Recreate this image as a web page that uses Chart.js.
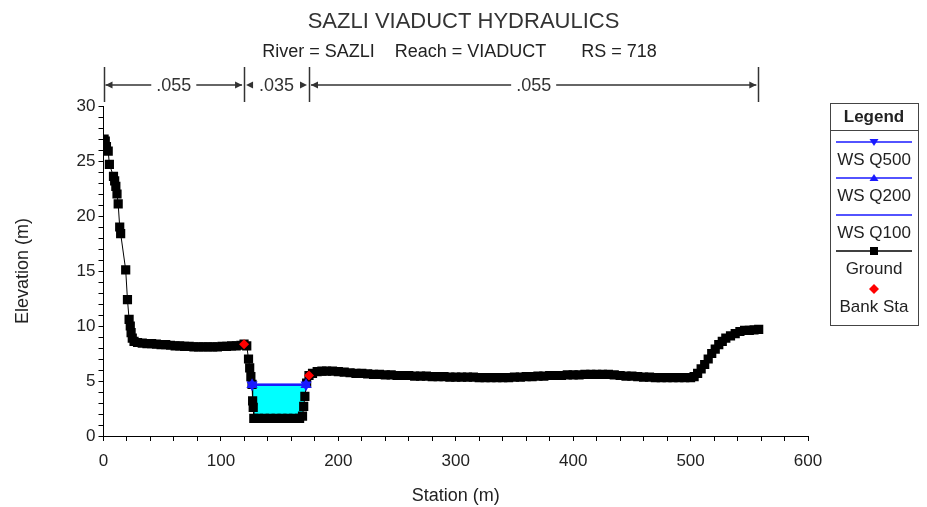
<!DOCTYPE html>
<html>
<head>
<meta charset="utf-8">
<title>SAZLI VIADUCT HYDRAULICS</title>
<script src="https://cdn.jsdelivr.net/npm/chart.js@4.4.1/dist/chart.umd.min.js"></script>
<style>
  html, body { margin: 0; padding: 0; background: #fff; }
</style>
</head>
<body>
<canvas id="xsChart" width="927" height="507"></canvas>
<script>
// Cross section RS 718 - ground survey points (station m, elevation m)
const groundStation = [
    0.5, 1.5, 2.5, 4, 5, 8.5, 9.5, 10.5, 11.5, 12.5, 13.8, 14.6, 18.9, 20.4, 21.8, 22.8, 23.5, 24.5,
    26, 29, 33, 37, 41, 45, 49, 53, 57, 61, 65, 69, 73, 77, 81, 85, 89, 93, 97, 101, 105, 109, 113, 117,
    119.7, 122, 123.5, 124.5, 125.5, 126.5, 127, 127.5, 128, 132, 137, 142, 147, 152, 157, 162, 167,
    169.5, 170.5, 171.5, 173, 175, 178, 182, 186, 190, 195, 200, 205, 210, 215, 220, 225, 230, 235,
    240, 245, 250, 255, 260, 265, 270, 275, 280, 285, 290, 295, 300, 305, 310, 315, 320, 325, 330,
    335, 340, 345, 350, 355, 360, 365, 370, 375, 380, 385, 390, 395, 400, 405, 410, 415, 420, 425,
    430, 435, 440, 445, 450, 455, 460, 465, 470, 475, 480, 485, 490, 495, 500, 503, 506, 509, 512,
    515, 518, 521, 524, 527, 530, 534, 538, 542, 546, 550, 554, 558];
const groundElev = [
    27.0, 26.8, 26.3, 25.9, 24.7, 23.6, 23.2, 22.7, 22.0, 21.1, 19.0, 18.4, 15.1, 12.4, 10.6, 10.0, 9.4, 8.9,
    8.6, 8.5, 8.45, 8.4, 8.4, 8.35, 8.3, 8.3, 8.25, 8.2, 8.2, 8.15, 8.15, 8.1, 8.1, 8.1, 8.1, 8.1, 8.1, 8.15, 8.15, 8.2, 8.2, 8.25,
    8.35, 8.2, 7.0, 6.2, 5.4, 4.7, 3.2, 2.6, 1.6, 1.6, 1.6, 1.6, 1.6, 1.6, 1.6, 1.6, 1.6,
    1.8, 2.7, 3.6, 4.8, 5.5, 5.7, 5.85, 5.9, 5.9, 5.9, 5.85, 5.8, 5.75, 5.7, 5.7, 5.65, 5.6, 5.6,
    5.55, 5.55, 5.5, 5.5, 5.5, 5.45, 5.45, 5.45, 5.4, 5.4, 5.4, 5.35, 5.35, 5.35, 5.35, 5.35, 5.3, 5.3, 5.3,
    5.3, 5.3, 5.3, 5.35, 5.35, 5.4, 5.4, 5.45, 5.45, 5.5, 5.5, 5.5, 5.55, 5.55, 5.55, 5.6, 5.6, 5.6, 5.6,
    5.6, 5.55, 5.5, 5.45, 5.45, 5.4, 5.35, 5.35, 5.3, 5.3, 5.3, 5.3, 5.3, 5.3, 5.3, 5.4, 5.7, 6.1, 6.5,
    7.0, 7.5, 7.9, 8.3, 8.6, 8.9, 9.1, 9.3, 9.5, 9.6, 9.6, 9.65, 9.7];

const bankStation = [119.7, 175];
const bankElev = [8.35, 5.5];

// water surface edges and elevations per profile
const wsStation = [126.5, 172.5];
const wsQ500 = [4.65, 4.65];
const wsQ200 = [4.65, 4.65];
const wsQ100 = [4.65, 4.65];

// Manning's n regions
const nBreaks = [0, 119.7, 175, 557.7];
const nValues = ['.055', '.035', '.055'];

const xTickLabels = [0, 100, 200, 300, 400, 500, 600];
const yTickLabels = [0, 5, 10, 15, 20, 25, 30];

const legendItems = ['WS Q500', 'WS Q200', 'WS Q100', 'Ground', 'Bank Sta'];
const titleText = 'SAZLI VIADUCT HYDRAULICS';
const subtitleText = 'River = SAZLI    Reach = VIADUCT       RS = 718';

const FONT = "'Liberation Sans', Arial, sans-serif";
const WS_BLUE = '#1a1aff';
Chart.defaults.font.family = FONT;
Chart.defaults.color = '#222';

function toXY(xs, ys) {
    return xs.map((x, i) => ({ x: x, y: ys[i] }));
}

const groundPts = toXY(groundStation, groundElev);
// wetted part of the channel, filled up to the water surface
const waterPts = [{ x: wsStation[0], y: wsQ100[0] }]
    .concat(groundPts.filter(p => p.x > wsStation[0] && p.x < wsStation[1]))
    .concat([{ x: wsStation[1], y: wsQ100[1] }]);

// titles, arrows + n values above the plot, legend box on the right
const annotate = {
    id: 'annotate',
    afterDraw(chart) {
        const ctx = chart.ctx;
        const xs = chart.scales.x;
        ctx.save();
        ctx.textAlign = 'center';
        ctx.textBaseline = 'middle';

        // titles centred on the whole canvas
        ctx.fillStyle = '#333';
        ctx.font = '22px ' + FONT;
        ctx.fillText(titleText, chart.width / 2, 22);
        ctx.fillStyle = '#222';
        ctx.font = '18px ' + FONT;
        ctx.fillText(subtitleText, chart.width / 2 - 4, 52);

        // n value brackets
        const yLine = 85;
        ctx.strokeStyle = '#333';
        ctx.fillStyle = '#333';
        ctx.lineWidth = 1.5;
        nBreaks.forEach(b => {
            const px = Math.round(xs.getPixelForValue(b)) + 0.5;
            ctx.beginPath();
            ctx.moveTo(px, 67);
            ctx.lineTo(px, 102);
            ctx.stroke();
        });
        function arrowHead(x, dir) {
            ctx.beginPath();
            ctx.moveTo(x, yLine);
            ctx.lineTo(x + dir * 7, yLine - 3.5);
            ctx.lineTo(x + dir * 7, yLine + 3.5);
            ctx.closePath();
            ctx.fill();
        }
        for (let i = 0; i < nValues.length; i++) {
            const a = xs.getPixelForValue(nBreaks[i]) + 2;
            const b = xs.getPixelForValue(nBreaks[i + 1]) - 2;
            const mid = (a + b) / 2;
            const half = ctx.measureText(nValues[i]).width / 2 + 5;
            ctx.fillText(nValues[i], mid, yLine + 1);
            if (mid - half > a + 8) {
                ctx.beginPath();
                ctx.moveTo(a, yLine);
                ctx.lineTo(mid - half, yLine);
                ctx.stroke();
                ctx.beginPath();
                ctx.moveTo(mid + half, yLine);
                ctx.lineTo(b, yLine);
                ctx.stroke();
            }
            arrowHead(a, 1);
            arrowHead(b, -1);
        }

        // legend
        const lx = 830, ly = 103, lw = 88, lh = 222;
        const cx = lx + lw / 2;
        ctx.lineWidth = 1;
        ctx.strokeStyle = '#444';
        ctx.strokeRect(lx + 0.5, ly + 0.5, lw, lh);
        ctx.beginPath();
        ctx.moveTo(lx, ly + 27.5);
        ctx.lineTo(lx + lw, ly + 27.5);
        ctx.stroke();
        ctx.fillStyle = '#222';
        ctx.font = 'bold 17px ' + FONT;
        ctx.fillText('Legend', cx, ly + 14);
        ctx.font = '17px ' + FONT;

        const rows = [142, 178, 215, 251, 289];
        rows.forEach((ry, i) => {
            if (i < 4) {
                ctx.strokeStyle = i < 3 ? WS_BLUE : '#000';
                ctx.lineWidth = 1.5;
                ctx.beginPath();
                ctx.moveTo(lx + 6, ry);
                ctx.lineTo(lx + lw - 6, ry);
                ctx.stroke();
            }
            if (i === 0) {
                ctx.fillStyle = WS_BLUE;
                ctx.beginPath();
                ctx.moveTo(cx - 4.5, ry - 3);
                ctx.lineTo(cx + 4.5, ry - 3);
                ctx.lineTo(cx, ry + 4);
                ctx.closePath();
                ctx.fill();
            } else if (i === 1) {
                ctx.fillStyle = WS_BLUE;
                ctx.beginPath();
                ctx.moveTo(cx - 4.5, ry + 3);
                ctx.lineTo(cx + 4.5, ry + 3);
                ctx.lineTo(cx, ry - 4);
                ctx.closePath();
                ctx.fill();
            } else if (i === 3) {
                ctx.fillStyle = '#000';
                ctx.fillRect(cx - 4, ry - 4, 8, 8);
            } else if (i === 4) {
                ctx.fillStyle = '#ff0000';
                ctx.beginPath();
                ctx.moveTo(cx, ry - 5);
                ctx.lineTo(cx + 5, ry);
                ctx.lineTo(cx, ry + 5);
                ctx.lineTo(cx - 5, ry);
                ctx.closePath();
                ctx.fill();
            }
            ctx.fillStyle = '#222';
            ctx.fillText(legendItems[i], cx, ry + 18);
        });
        ctx.restore();
    }
};

new Chart(document.getElementById('xsChart'), {
    type: 'line',
    data: {
        datasets: [
            {
                label: 'Bank Sta',
                data: toXY(bankStation, bankElev),
                showLine: false,
                pointStyle: 'rectRot',
                pointRadius: 5,
                backgroundColor: '#ff0000',
                borderColor: '#ff0000',
                borderWidth: 0
            },
            {
                label: 'WS Q500',
                data: toXY(wsStation, wsQ500),
                borderColor: WS_BLUE,
                backgroundColor: WS_BLUE,
                borderWidth: 2,
                pointStyle: 'triangle',
                rotation: 180,
                pointRadius: 4.5
            },
            {
                label: 'WS Q200',
                data: toXY(wsStation, wsQ200),
                borderColor: WS_BLUE,
                backgroundColor: WS_BLUE,
                borderWidth: 2,
                pointStyle: 'triangle',
                pointRadius: 4.5
            },
            {
                label: 'WS Q100',
                data: toXY(wsStation, wsQ100),
                borderColor: WS_BLUE,
                borderWidth: 2,
                pointRadius: 0
            },
            {
                label: 'Ground',
                data: groundPts,
                borderColor: '#000',
                backgroundColor: '#000',
                borderWidth: 1,
                pointStyle: 'rect',
                pointRadius: 6.5,
                pointBorderWidth: 0
            },
            {
                label: 'water',
                data: waterPts,
                borderWidth: 0,
                pointRadius: 0,
                backgroundColor: '#00ffff',
                fill: { value: wsQ100[0] }
            }
        ]
    },
    options: {
        responsive: false,
        animation: false,
        events: [],
        layout: { padding: { left: 5, right: 119, top: 106, bottom: 0 } },
        plugins: {
            legend: { display: false },
            tooltip: { enabled: false },
            title: { display: false },
            subtitle: { display: false }
        },
        scales: {
            x: {
                type: 'linear',
                min: 0,
                max: 600,
                grid: { drawOnChartArea: false, tickLength: 5, tickColor: '#000' },
                border: { color: '#000', width: 1 },
                ticks: {
                    stepSize: 20,
                    autoSkip: false,
                    maxRotation: 0,
                    padding: 10,
                    color: '#222',
                    font: { size: 17 },
                    callback: v => xTickLabels.includes(v) ? String(v) : ''
                },
                title: {
                    display: true,
                    text: 'Station (m)',
                    color: '#222',
                    font: { size: 18 },
                    padding: { top: 4, bottom: 0 }
                }
            },
            y: {
                min: 0,
                max: 30,
                grid: { drawOnChartArea: false, tickLength: 5, tickColor: '#000' },
                border: { color: '#000', width: 1 },
                ticks: {
                    stepSize: 1,
                    autoSkip: false,
                    padding: 3,
                    color: '#222',
                    font: { size: 17 },
                    callback: v => yTickLabels.includes(v) ? String(v) : ''
                },
                title: {
                    display: true,
                    text: 'Elevation (m)',
                    color: '#222',
                    font: { size: 18 },
                    padding: { top: 7, bottom: 40 }
                }
            }
        }
    },
    plugins: [annotate]
});
</script>
</body>
</html>
